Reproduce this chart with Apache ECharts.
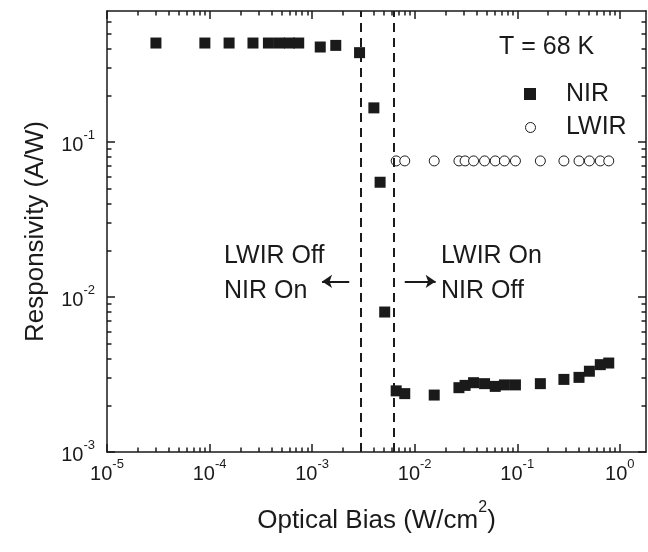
<!DOCTYPE html>
<html>
<head>
<meta charset="utf-8">
<script src="https://cdn.jsdelivr.net/npm/echarts@6/dist/echarts.min.js"></script>
<style>
html, body { margin: 0; padding: 0; background: #fff; }
#chart { width: 648px; height: 552px; }
</style>
</head>
<body>
<div id="chart"></div>
<script>
// NIR responsivity vs optical bias (T = 68 K)
const nirBias = [3.0e-5, 9.0e-5, 1.55e-4, 2.65e-4, 3.75e-4, 4.8e-4, 6.0e-4, 7.4e-4, 1.2e-3, 1.7e-3,
  2.9e-3, 4.0e-3, 4.6e-3, 5.1e-3,
  6.6e-3, 8.0e-3, 1.55e-2, 2.7e-2, 3.1e-2, 3.75e-2, 4.8e-2, 6.1e-2, 7.5e-2, 9.6e-2,
  0.168, 0.285, 0.40, 0.505, 0.645, 0.78]
const nirResp = [0.435, 0.435, 0.435, 0.435, 0.435, 0.435, 0.435, 0.435, 0.41, 0.42,
  0.377, 0.166, 0.055, 0.008,
  0.00248, 0.00238, 0.00233, 0.0026, 0.00269, 0.0028, 0.00276, 0.00265, 0.00271, 0.00271,
  0.00276, 0.00294, 0.00303, 0.00332, 0.00366, 0.00375]
// LWIR responsivity, only above the switching bias
const lwirBias = [6.6e-3, 8.0e-3, 1.55e-2, 2.7e-2, 3.1e-2, 3.75e-2, 4.8e-2, 6.1e-2, 7.5e-2, 9.6e-2,
  0.168, 0.285, 0.40, 0.505, 0.645, 0.78]
const lwirResp = [0.0755, 0.0755, 0.0755, 0.0755, 0.0755, 0.0755, 0.0755, 0.0755, 0.0755, 0.0755,
  0.0755, 0.0755, 0.0755, 0.0755, 0.0755, 0.0755]
// dashed switching lines
const switchBias = [0.003, 0.0063]
// arrows: [fromX, toX] at arrowY
const arrowY = 0.0126
const arrowLeft = [2.3e-3, 1.25e-3]
const arrowRight = [8.0e-3, 1.6e-2]
// axes
const xMin = 1e-5, xMax = 1.8
const yMin = 1e-3, yMax = 0.7
const xTicks = [1e-5, 1e-4, 1e-3, 1e-2, 1e-1, 1]
const yTicks = [1e-3, 1e-2, 1e-1]

const FONT = 'Liberation Sans, Arial, Helvetica, sans-serif'
const INK = '#1a1a1a'
const GRID = { left: 107, right: 2, top: 11, bottom: 100 }

// minor ticks 2..9 in each decade
const minorOf = (majors, max) => {
  const out = []
  majors.forEach(m => { for (let k = 2; k <= 9; k++) { if (k * m < max) out.push(k * m) } })
  return out
}
const xMinor = minorOf(xTicks, xMax)
const yMinor = minorOf(yTicks, yMax)

// tick marks on all four sides, drawn as short inward segments on the log scales
const pxPerDecX = (648 - GRID.left - GRID.right) / Math.log10(xMax / xMin)
const pxPerDecY = (552 - GRID.top - GRID.bottom) / Math.log10(yMax / yMin)
const tickStyle = { type: 'solid', width: 1.5, color: INK }
const tickLines = []
const addX = (v, len) => {
  const f = Math.pow(10, len / pxPerDecY)
  tickLines.push([{ coord: [v, yMin], lineStyle: tickStyle }, { coord: [v, yMin * f] }])
  tickLines.push([{ coord: [v, yMax], lineStyle: tickStyle }, { coord: [v, yMax / f] }])
}
const addY = (v, len) => {
  const f = Math.pow(10, len / pxPerDecX)
  tickLines.push([{ coord: [xMin, v], lineStyle: tickStyle }, { coord: [xMin * f, v] }])
  tickLines.push([{ coord: [xMax, v], lineStyle: tickStyle }, { coord: [xMax / f, v] }])
}
xTicks.forEach(v => addX(v, 8))
xMinor.forEach(v => addX(v, 4.5))
yTicks.forEach(v => addY(v, 8))
yMinor.forEach(v => addY(v, 4.5))

const pow10Label = v => {
  const e = Math.log10(v)
  if (Math.abs(e - Math.round(e)) > 1e-6) return ''
  return '{b|10}{s|' + Math.round(e) + '}'
}
const labelRich = {
  b: { fontSize: 20, fontFamily: FONT, color: INK, lineHeight: 26, verticalAlign: 'bottom' },
  s: { fontSize: 13, fontFamily: FONT, color: INK, lineHeight: 26, verticalAlign: 'top' }
}
const frameAxis = (extra) => Object.assign({
  type: 'log', logBase: 10,
  axisLine: { show: true, lineStyle: { color: INK, width: 1.5 } },
  axisTick: { show: false },
  minorTick: { show: false },
  splitLine: { show: false },
  axisLabel: { show: false }
}, extra)

const myChart = echarts.init(document.getElementById('chart'))
const option = {
  animation: false,
  grid: GRID,
  xAxis: [frameAxis({
    min: xMin, max: xMax, position: 'bottom',
    axisLabel: { show: true, formatter: pow10Label, rich: labelRich, margin: 6, showMaxLabel: false },
    name: '{a|Optical Bias (W/cm}{p|2}{a|)}', nameLocation: 'middle', nameGap: 48,
    nameTextStyle: {
      rich: {
        a: { fontSize: 26, fontFamily: FONT, color: INK, lineHeight: 34, verticalAlign: 'bottom' },
        p: { fontSize: 16, fontFamily: FONT, color: INK, lineHeight: 34, verticalAlign: 'top' }
      }
    }
  }), frameAxis({ min: xMin, max: xMax, position: 'top' })],
  yAxis: [frameAxis({
    min: yMin, max: yMax, position: 'left',
    axisLabel: { show: true, formatter: pow10Label, rich: labelRich, margin: 12, showMaxLabel: false },
    name: 'Responsivity (A/W)', nameLocation: 'middle', nameGap: 58, nameRotate: 90,
    nameTextStyle: { fontSize: 26, fontFamily: FONT, color: INK }
  }), frameAxis({ min: yMin, max: yMax, position: 'right' })],
  series: [{
    name: 'NIR', type: 'scatter', symbol: 'rect', symbolSize: 11,
    data: nirBias.map((x, i) => [x, nirResp[i]]),
    itemStyle: { color: INK, opacity: 1 },
    markLine: {
      silent: true, symbol: 'none', label: { show: false },
      lineStyle: { color: INK, width: 2, type: [9, 6], opacity: 1 },
      data: switchBias.map(v => [{ coord: [v, yMin] }, { coord: [v, yMax] }]).concat(tickLines)
    }
  }, {
    name: 'LWIR', type: 'scatter', symbol: 'circle', symbolSize: 10,
    data: lwirBias.map((x, i) => [x, lwirResp[i]]),
    itemStyle: { color: '#fff', borderColor: INK, borderWidth: 1, opacity: 1 },
    markLine: {
      silent: true, symbol: ['none', 'arrow'], symbolSize: 10, label: { show: false },
      lineStyle: { color: INK, width: 2, type: 'solid', opacity: 1 },
      itemStyle: { color: INK },
      data: [
        [{ coord: [arrowLeft[0], arrowY] }, { coord: [arrowLeft[1], arrowY] }],
        [{ coord: [arrowRight[0], arrowY] }, { coord: [arrowRight[1], arrowY] }]
      ]
    }
  }],
  graphic: [
    { type: 'text', left: 499, top: 35, style: { text: 'T = 68 K', font: '25px ' + FONT, fill: INK } },
    { type: 'rect', left: 524, top: 88, shape: { width: 12, height: 12 }, style: { fill: INK } },
    { type: 'text', left: 566, top: 82, style: { text: 'NIR', font: '25px ' + FONT, fill: INK } },
    { type: 'circle', left: 525, top: 122, shape: { r: 5 }, style: { fill: '#fff', stroke: INK, lineWidth: 1 } },
    { type: 'text', left: 566, top: 115, style: { text: 'LWIR', font: '25px ' + FONT, fill: INK } },
    { type: 'text', left: 224, top: 244, style: { text: 'LWIR Off', font: '25px ' + FONT, fill: INK } },
    { type: 'text', left: 224, top: 279, style: { text: 'NIR On', font: '25px ' + FONT, fill: INK } },
    { type: 'text', left: 441, top: 244, style: { text: 'LWIR On', font: '25px ' + FONT, fill: INK } },
    { type: 'text', left: 441, top: 279, style: { text: 'NIR Off', font: '25px ' + FONT, fill: INK } }
  ]
}
myChart.setOption(option)
</script>
</body>
</html>
